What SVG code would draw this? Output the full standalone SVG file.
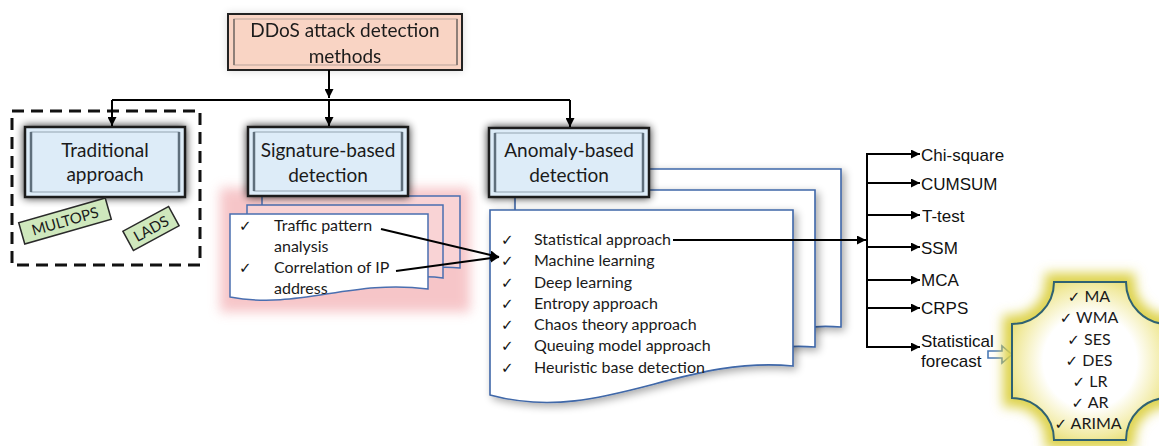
<svg xmlns="http://www.w3.org/2000/svg" width="1159" height="446" viewBox="0 0 1159 446">
<defs>
<style>
.t{font-family:Lato,"Liberation Sans",sans-serif;fill:#1a1a1a}
.title{font-size:19px;text-anchor:middle}
.li{font-size:16px}
.ar{font-family:"Liberation Sans",Arial,sans-serif;font-size:17px;fill:#111}
.ck{font-family:"DejaVu Sans",sans-serif;font-size:15px;fill:#111}
.pl{font-family:Lato,"Liberation Sans",sans-serif;font-size:16px;fill:#1a1a1a;text-anchor:middle}
.conn{stroke:#000;stroke-width:2;fill:none}
.box{fill:#ddecf8;stroke:#1e1e1e;stroke-width:2.5}
.inner{fill:none;stroke:#93a3b0;stroke-width:1}
.bar{stroke:#5f6f7c;stroke-width:2.5}
.tag{fill:#cfe8bd;stroke:#2a2a2a;stroke-width:1.5}
.sdoc{stroke:#4a6fb0;stroke-width:1.5}
.adoc{fill:#fff;stroke:#3f67a8;stroke-width:1.6}
</style>
<marker id="ah" markerUnits="userSpaceOnUse" markerWidth="10" markerHeight="9" refX="9" refY="4.5" orient="auto">
<path d="M0,0 L9,4.5 L0,9 z" fill="#000"/>
</marker>
<filter id="shadow" x="-20%" y="-30%" width="140%" height="160%">
<feGaussianBlur in="SourceAlpha" stdDeviation="4"/>
<feComponentTransfer><feFuncA type="linear" slope="0.85"/></feComponentTransfer>
<feMerge><feMergeNode/><feMergeNode in="SourceGraphic"/></feMerge>
</filter>
<filter id="soft" x="-20%" y="-30%" width="140%" height="160%">
<feGaussianBlur in="SourceAlpha" stdDeviation="4"/>
<feComponentTransfer><feFuncA type="linear" slope="0.15"/></feComponentTransfer>
<feMerge><feMergeNode/><feMergeNode in="SourceGraphic"/></feMerge>
</filter>
<filter id="gshadow" x="-10%" y="-10%" width="130%" height="130%">
<feGaussianBlur in="SourceAlpha" stdDeviation="4"/>
<feOffset dx="3" dy="3"/>
<feComponentTransfer><feFuncA type="linear" slope="0.35"/></feComponentTransfer>
<feMerge><feMergeNode/><feMergeNode in="SourceGraphic"/></feMerge>
</filter>
<filter id="blur6" x="-20%" y="-20%" width="140%" height="140%"><feGaussianBlur stdDeviation="6"/></filter>
<radialGradient id="yg" cx="50%" cy="50%" r="60%">
<stop offset="0" stop-color="#ffffff"/>
<stop offset="0.5" stop-color="#ffffff"/>
<stop offset="0.8" stop-color="#f1eaa0"/>
<stop offset="1" stop-color="#e0d55a"/>
</radialGradient>
</defs>
<rect width="1159" height="446" fill="#fff"/>

<!-- top node -->
<g id="node-ddos" filter="url(#soft)">
<rect x="228" y="14" width="234" height="56" fill="#f9d4c4" stroke="#222" stroke-width="2"/>
<rect x="234" y="19" width="223" height="46" fill="none" stroke="#b9a39a" stroke-width="1"/>
<line x1="234" y1="19" x2="234" y2="65" stroke="#8f7f78" stroke-width="2"/>
<line x1="457" y1="19" x2="457" y2="65" stroke="#8f7f78" stroke-width="2"/>
<text class="t title" x="345" y="36.5">DDoS attack detection</text>
<text class="t title" x="345" y="62.5">methods</text>
</g>

<!-- traditional group -->
<g id="node-traditional-group">
<rect x="12" y="111" width="188" height="154" fill="none" stroke="#111" stroke-width="3" stroke-dasharray="12 7"/>
</g>
<g id="node-traditional">
<rect class="box" x="25" y="127" width="160" height="70" filter="url(#shadow)"/>
<rect class="inner" x="31" y="132" width="148" height="60"/>
<line class="bar" x1="31" y1="132" x2="31" y2="192"/>
<line class="bar" x1="179" y1="132" x2="179" y2="192"/>
<text class="t title" x="105" y="157">Traditional</text>
<text class="t title" x="105" y="181">approach</text>
</g>
<g id="node-multops" transform="translate(65 221) rotate(-16)">
<rect class="tag" x="-45" y="-11" width="90" height="22"/>
<text class="t" x="0" y="5.5" font-size="15" text-anchor="middle">MULTOPS</text>
</g>
<g id="node-lads" transform="translate(151 228.5) rotate(-28.5)">
<rect class="tag" x="-26" y="-11" width="52" height="22"/>
<text class="t" x="0" y="5.5" font-size="15" text-anchor="middle">LADS</text>
</g>

<!-- signature docs -->
<g id="node-signature-list">
<rect x="220" y="188" width="250" height="124" fill="#f5bcbf" filter="url(#blur6)" opacity="0.85"/>
<path class="sdoc" fill="#f9d3d5" d="M262,196 H460 V268 C 410,262 370,290 262,280 Z"/>
<path class="sdoc" fill="#f9d3d5" d="M247,205 H443 V278 C 395,270 350,300 247,290 Z"/>
<path class="sdoc" fill="#fff" d="M230,214 H428 V289 C 350,279 300,310 230,297 Z"/>
<text class="ck" x="239" y="231">✓</text>
<text class="t li" x="274" y="231">Traffic pattern</text>
<text class="t li" x="274" y="252">analysis</text>
<text class="ck" x="239" y="273">✓</text>
<text class="t li" x="274" y="273">Correlation of IP</text>
<text class="t li" x="274" y="294">address</text>
</g>
<g id="node-signature">
<rect class="box" x="248" y="127" width="160" height="69" filter="url(#shadow)"/>
<rect class="inner" x="254" y="132" width="148" height="59"/>
<line class="bar" x1="254" y1="132" x2="254" y2="191"/>
<line class="bar" x1="402" y1="132" x2="402" y2="191"/>
<text class="t title" x="328" y="157">Signature-based</text>
<text class="t title" x="328" y="182">detection</text>
</g>

<!-- anomaly docs -->
<g id="node-anomaly-list">
<path class="adoc" filter="url(#gshadow)" d="M540,169 H841 V327 C 760,320 700,370 540,355 Z"/>
<path class="adoc" filter="url(#gshadow)" d="M515,190 H815 V347 C 730,340 660,390 515,375 Z"/>
<path class="adoc" filter="url(#gshadow)" d="M490,210 H793 V366 C 680,355 600,425 490,395 Z"/>
<text class="ck" x="501" y="245">✓</text>
<text class="t li" x="534" y="245">Statistical approach</text>
<text class="ck" x="501" y="266">✓</text>
<text class="t li" x="534" y="266">Machine learning</text>
<text class="ck" x="501" y="287.5">✓</text>
<text class="t li" x="534" y="287.5">Deep learning</text>
<text class="ck" x="501" y="309">✓</text>
<text class="t li" x="534" y="309">Entropy approach</text>
<text class="ck" x="501" y="330">✓</text>
<text class="t li" x="534" y="330">Chaos theory approach</text>
<text class="ck" x="501" y="351">✓</text>
<text class="t li" x="534" y="351">Queuing model approach</text>
<text class="ck" x="501" y="372.5">✓</text>
<text class="t li" x="534" y="372.5">Heuristic base detection</text>
</g>
<g id="node-anomaly">
<rect class="box" x="489" y="128" width="160" height="69" filter="url(#shadow)"/>
<rect class="inner" x="495" y="133" width="148" height="59"/>
<line class="bar" x1="495" y1="133" x2="495" y2="192"/>
<line class="bar" x1="643" y1="133" x2="643" y2="192"/>
<text class="t title" x="569" y="157">Anomaly-based</text>
<text class="t title" x="569" y="182">detection</text>
</g>

<!-- statistical methods -->
<g id="node-stat-methods">
<text class="ar" x="921" y="160.5">Chi-square</text>
<text class="ar" x="921" y="190">CUMSUM</text>
<text class="ar" x="922" y="221.5">T-test</text>
<text class="ar" x="921" y="254">SSM</text>
<text class="ar" x="921" y="286">MCA</text>
<text class="ar" x="921" y="314">CRPS</text>
<text class="ar" x="921" y="346.5">Statistical</text>
<text class="ar" x="921" y="367">forecast</text>
</g>
<g id="node-forecast-arrow">
<path d="M988,351 H1002 V346 L1012,354.5 L1002,363 V358 H988 Z" fill="#fff" stroke="#4a7ab5" stroke-width="1.6"/>
</g>

<!-- forecast plaque -->
<g id="node-forecast">
<path d="M1054,282 H1126 A42 42 0 0 0 1168,324 V398 A42 42 0 0 0 1126,440 H1054 A42 42 0 0 0 1012,398 V324 A42 42 0 0 0 1054,282 Z" fill="none" stroke="#ddd24a" stroke-width="18" filter="url(#blur6)"/>
<path d="M1054,282 H1126 A42 42 0 0 0 1168,324 V398 A42 42 0 0 0 1126,440 H1054 A42 42 0 0 0 1012,398 V324 A42 42 0 0 0 1054,282 Z" fill="url(#yg)" stroke="#2f6272" stroke-width="2"/>
<text class="pl" x="1089" y="302"><tspan class="ck">✓</tspan> MA</text>
<text class="pl" x="1089" y="323"><tspan class="ck">✓</tspan> WMA</text>
<text class="pl" x="1089" y="345"><tspan class="ck">✓</tspan> SES</text>
<text class="pl" x="1089" y="366"><tspan class="ck">✓</tspan> DES</text>
<text class="pl" x="1090" y="387"><tspan class="ck">✓</tspan> LR</text>
<text class="pl" x="1090" y="408"><tspan class="ck">✓</tspan> AR</text>
<text class="pl" x="1088" y="429"><tspan class="ck">✓</tspan> ARIMA</text>
</g>

<!-- connectors -->
<g id="connectors">
<path class="conn" d="M329,70 V98" marker-end="url(#ah)"/>
<path class="conn" d="M112,100 H570"/>
<path class="conn" d="M112,100 V126" marker-end="url(#ah)"/>
<path class="conn" d="M329,100 V126" marker-end="url(#ah)"/>
<path class="conn" d="M570,100 V127" marker-end="url(#ah)"/>
<path class="conn" d="M381,229 L499,257" marker-end="url(#ah)"/>
<path class="conn" d="M396,271 L499,257" marker-end="url(#ah)"/>
<path class="conn" d="M673,240 H866" marker-end="url(#ah)"/>
<path class="conn" d="M867,154 V347"/>
<path class="conn" d="M866,154 H920" marker-end="url(#ah)"/>
<path class="conn" d="M866,183 H920" marker-end="url(#ah)"/>
<path class="conn" d="M866,215 H920" marker-end="url(#ah)"/>
<path class="conn" d="M866,247 H920" marker-end="url(#ah)"/>
<path class="conn" d="M866,280 H920" marker-end="url(#ah)"/>
<path class="conn" d="M866,308 H920" marker-end="url(#ah)"/>
<path class="conn" d="M866,347 H920" marker-end="url(#ah)"/>
</g>
</svg>
